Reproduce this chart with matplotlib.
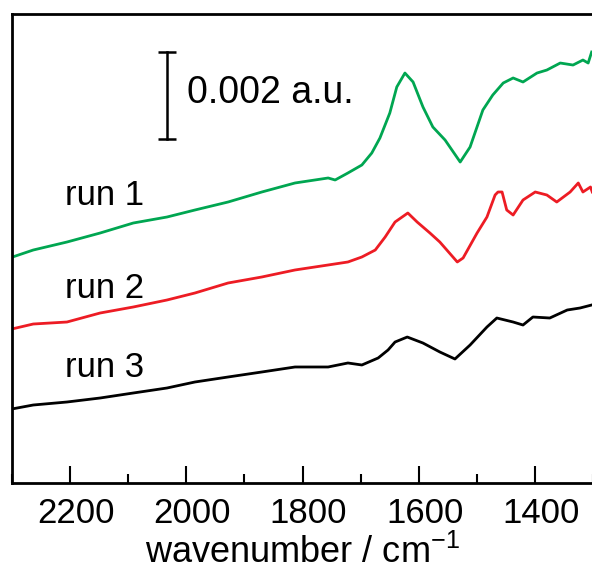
import matplotlib
matplotlib.use("Agg")
import matplotlib.pyplot as plt
import matplotlib.transforms as mtransforms
import numpy as np

plt.rcParams["font.family"] = ["Liberation Sans", "DejaVu Sans"]
plt.rcParams["mathtext.fontset"] = "custom"
plt.rcParams["mathtext.rm"] = "Liberation Sans"
plt.rcParams["mathtext.it"] = "Liberation Sans:italic"

# Difference spectra (absorbance, a.u.) versus wavenumber (cm^-1)
wn_run1 = [2300, 2263, 2205, 2148, 2091, 2033, 1985, 1928, 1870, 1813, 1756, 1744,
           1722, 1698, 1681, 1667, 1650, 1638, 1624, 1610, 1593, 1576, 1555, 1529,
           1512, 1490, 1473, 1455, 1438, 1421, 1397, 1380, 1357, 1335, 1318, 1309,
           1303]
abs_run1 = [0.005189, 0.005356, 0.005540, 0.005747, 0.005977, 0.006115, 0.006276,
            0.006460, 0.006690, 0.006897, 0.007012, 0.006966, 0.007127, 0.007311,
            0.007586, 0.007931, 0.008506, 0.009104, 0.009425, 0.009219, 0.008644,
            0.008184, 0.007885, 0.007379, 0.007724, 0.008575, 0.008920, 0.009196,
            0.009311, 0.009219, 0.009425, 0.009494, 0.009655, 0.009609, 0.009724,
            0.009655, 0.009908]

wn_run2 = [2300, 2263, 2205, 2148, 2091, 2033, 1985, 1928, 1870, 1813, 1756, 1722,
           1698, 1675, 1658, 1641, 1619, 1603, 1581, 1564, 1534, 1524, 1500, 1483,
           1469, 1464, 1457, 1449, 1438, 1421, 1400, 1380, 1363, 1340, 1326, 1318,
           1305, 1302]
abs_run2 = [0.003540, 0.003655, 0.003701, 0.003908, 0.004046, 0.004207, 0.004368,
            0.004598, 0.004736, 0.004897, 0.005012, 0.005081, 0.005196, 0.005356,
            0.005655, 0.006000, 0.006207, 0.006000, 0.005747, 0.005540, 0.005081,
            0.005173, 0.005747, 0.006115, 0.006621, 0.006690, 0.006690, 0.006276,
            0.006161, 0.006506, 0.006690, 0.006621, 0.006460, 0.006690, 0.006897,
            0.006690, 0.006805, 0.006690]

wn_run3 = [2300, 2263, 2205, 2148, 2091, 2033, 1985, 1928, 1870, 1813, 1756, 1722,
           1698, 1670, 1653, 1641, 1620, 1593, 1564, 1538, 1512, 1483, 1466, 1438,
           1421, 1404, 1375, 1345, 1323, 1303]
abs_run3 = [0.001701, 0.001793, 0.001862, 0.001954, 0.002069, 0.002184, 0.002322,
            0.002437, 0.002552, 0.002667, 0.002667, 0.002759, 0.002713, 0.002874,
            0.003058, 0.003241, 0.003356, 0.003218, 0.003012, 0.002851, 0.003172,
            0.003586, 0.003793, 0.003701, 0.003632, 0.003816, 0.003793, 0.003977,
            0.004023, 0.004092]

run_labels = ["run 1", "run 2", "run 3"]
run_colors = ["#00a651", "#ed1c24", "#000000"]
label_wn = [2208, 2208, 2208]
label_abs = [0.00639, 0.00425, 0.00244]

xticks = [2200, 2000, 1800, 1600, 1400]
scale_value = 0.002
scale_wn = 2033
scale_bottom = 0.00791

fig = plt.figure(figsize=(5.92, 5.72), dpi=100)
ax = fig.add_axes([11.7 / 592, 89 / 572, (593.4 - 11.7) / 592, (483 - 14) / 572])

for wn, a, c in zip([wn_run1, wn_run2, wn_run3], [abs_run1, abs_run2, abs_run3], run_colors):
    ax.plot(wn, a, color=c, lw=2.0, solid_joinstyle="round")

for lab, x, y in zip(run_labels, label_wn, label_abs):
    ax.text(x, y, lab, fontsize=25, va="baseline", ha="left")

# scale bar
ax.plot([scale_wn, scale_wn], [scale_bottom, scale_bottom + scale_value],
        color="black", lw=1.8)
ax.plot([scale_wn, scale_wn], [scale_bottom, scale_bottom + scale_value],
        ls="none", marker="_", ms=13, mew=1.8, color="black")
ax.text(1999, 0.00874, "0.002 a.u.", fontsize=27, va="baseline", ha="left")

ax.set_xlim(2300, 1300)
ax.set_ylim(0, 0.010782)
ax.set_xticks(xticks)
ax.set_xticks(np.arange(2300, 1299, -100), minor=True)
ax.set_yticks([])
ax.tick_params(axis="x", which="major", direction="in", length=12.5, width=1.5,
               labelsize=25, pad=10)
ax.tick_params(axis="x", which="minor", direction="in", length=6.5, width=1.5)
shift = mtransforms.ScaledTranslation(6 / 100, 0, fig.dpi_scale_trans)
for lbl in ax.get_xticklabels():
    lbl.set_transform(lbl.get_transform() + shift)
for s in ax.spines.values():
    s.set_linewidth(2.0)

fig.text(302.5 / 592, (572 - 563) / 572, "wavenumber / cm$^{-1}$",
         fontsize=26, ha="center", va="baseline")

fig.savefig("out.png", dpi=100)
